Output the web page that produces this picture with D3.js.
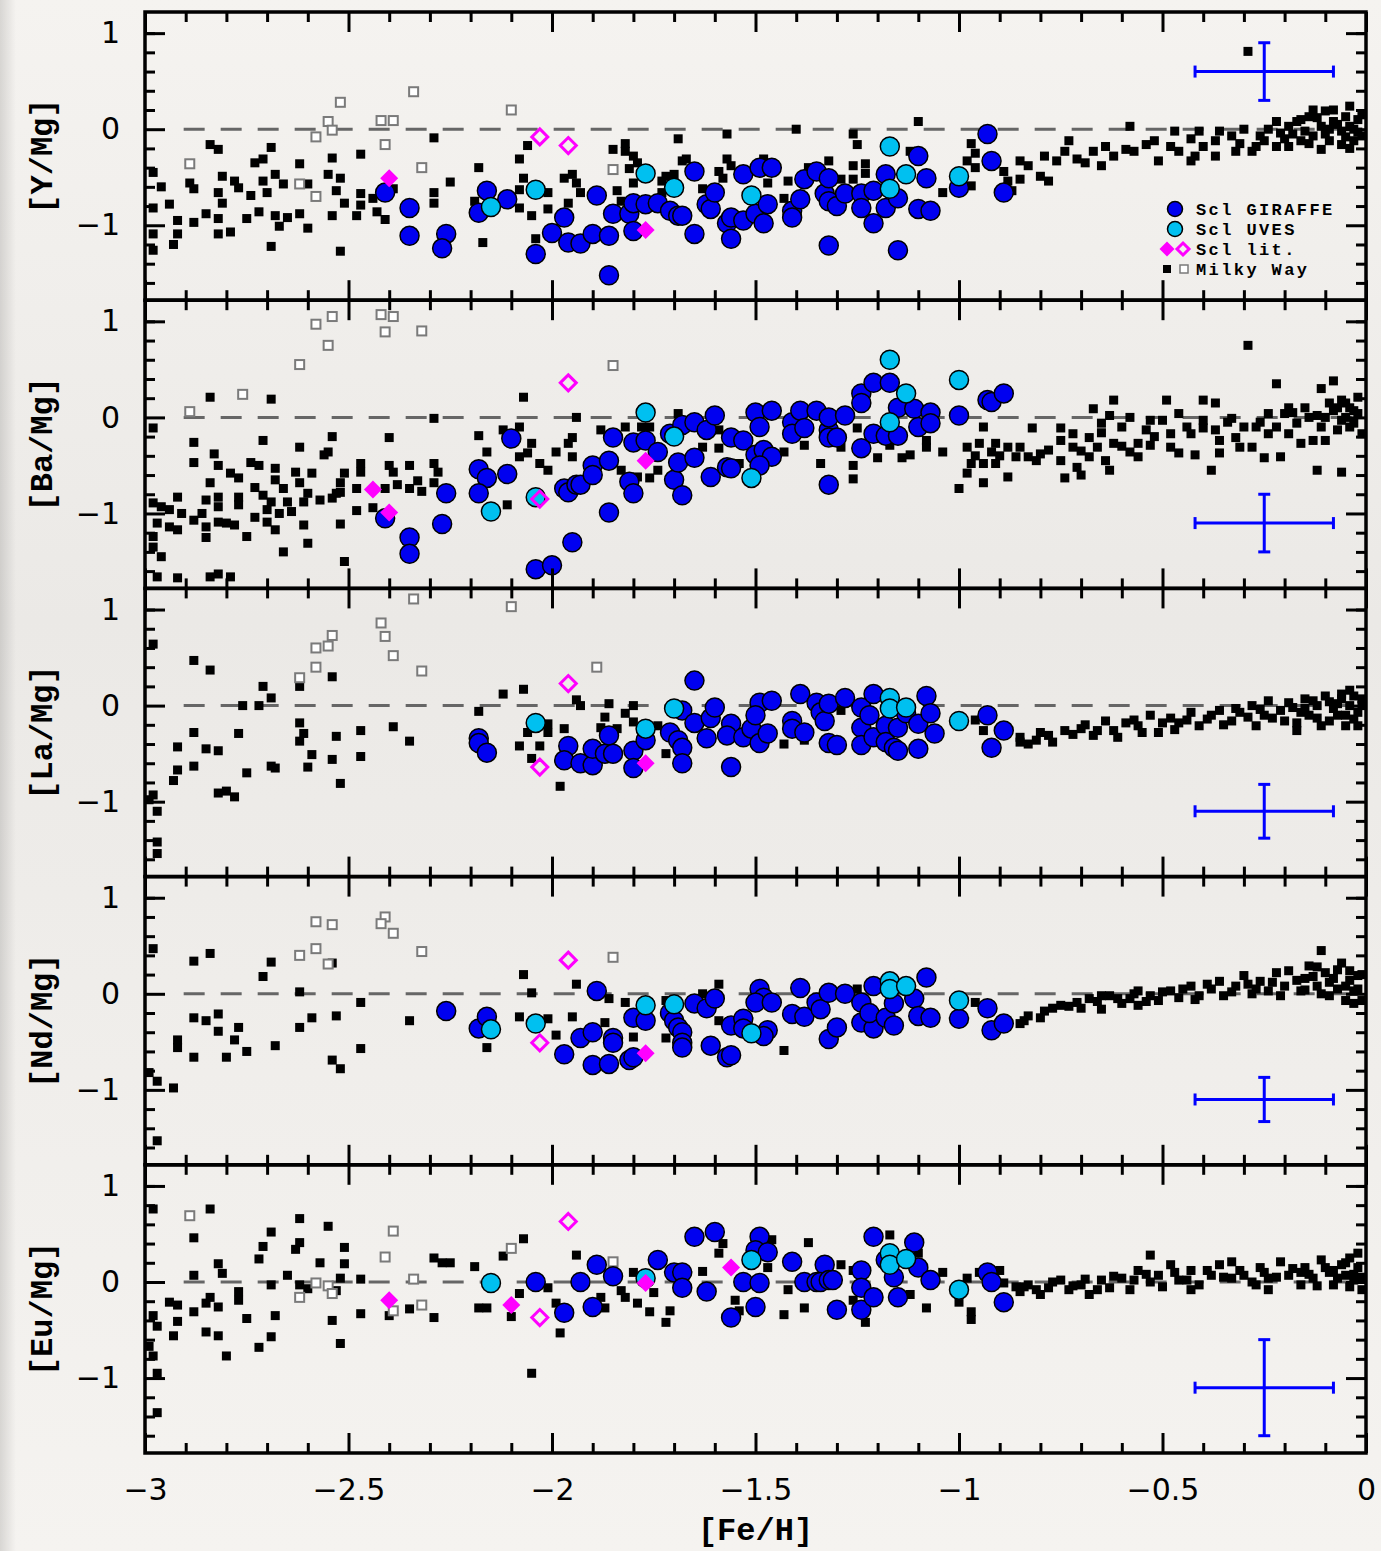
<!DOCTYPE html>
<html>
<head>
<meta charset="utf-8">
<script src="https://cdn.jsdelivr.net/npm/d3@7"></script>
<style>
  body { margin: 0; background: #f3f1ee; }
  svg { display: block; }
</style>
</head>
<body>
<script>
// Axis data
const feTicks = [-3, -2.5, -2, -1.5, -1, -0.5, 0];
const feMinor = d3.range(-29, 0).map(d => d / 10).filter(d => Math.abs(d * 2 - Math.round(d * 2)) > 1e-6);
const yTicks = [-1, 0, 1];
const yMinor = [-1.6, -1.4, -1.2, -0.8, -0.6, -0.4, -0.2, 0.2, 0.4, 0.6, 0.8, 1.0];
const yLabels = ['[Y/Mg]', '[Ba/Mg]', '[La/Mg]', '[Nd/Mg]', '[Eu/Mg]'];
const legendLabels = ['Scl GIRAFFE', 'Scl UVES', 'Scl lit.', 'Milky Way'];

// Typical error bars per panel
const errFe = -0.25;
const errFeHalf = 0.17;
const errCenter = [0.6, -1.1, -1.1, -1.1, -1.1];
const errHalf = [0.3, 0.3, 0.28, 0.23, 0.5];

// ---------------- [Y/Mg] ----------------
const girY = [[-2.41,-0.66],[-2.35,-0.82],[-2.35,-1.11],[-2.26,-1.09],[-2.27,-1.24],[-2.18,-0.87],[-2.16,-0.64],[-2.11,-0.73],[-2.04,-1.30],[-2.00,-1.08],[-1.97,-0.92],[-1.96,-1.18],[-1.93,-1.19],[-1.90,-1.09],[-1.89,-0.69],[-1.86,-1.11],[-1.85,-0.88],[-1.81,-0.88],[-1.80,-0.77],[-1.77,-0.78],[-1.80,-1.06],[-1.74,-0.77],[-1.71,-0.85],[-1.69,-0.90],[-1.68,-0.90],[-1.65,-0.44],[-1.65,-1.09],[-1.62,-0.78],[-1.61,-0.83],[-1.60,-0.66],[-1.57,-0.98],[-1.56,-0.92],[-1.56,-1.14],[-1.53,-0.95],[-1.53,-0.47],[-1.50,-0.88],[-1.49,-0.40],[-1.48,-0.98],[-1.47,-0.78],[-1.46,-0.40],[-1.41,-0.85],[-1.41,-0.92],[-1.39,-0.73],[-1.38,-0.52],[-1.35,-0.44],[-1.33,-0.67],[-1.32,-0.75],[-1.32,-0.51],[-1.30,-0.80],[-1.28,-0.67],[-1.32,-1.21],[-1.24,-0.67],[-1.24,-0.82],[-1.21,-0.64],[-1.21,-0.98],[-1.18,-0.82],[-1.18,-0.47],[-1.15,-0.72],[-1.15,-1.26],[-1.10,-0.28],[-1.10,-0.83],[-1.08,-0.51],[-1.07,-0.85],[-1.00,-0.61],[-0.93,-0.05],[-0.92,-0.33],[-0.89,-0.66],[-1.86,-1.52]];
const uvesY = [[-2.15,-0.81],[-2.04,-0.63],[-1.77,-0.46],[-1.70,-0.61],[-1.51,-0.69],[-1.17,-0.18],[-1.13,-0.47],[-1.17,-0.62],[-1.00,-0.49]];
const litY = [[-2.40,-0.51],[-1.77,-1.05]];
const litOpenY = [[-2.03,-0.08],[-1.96,-0.17]];
const mwOpenY = [[-2.89,-0.36],[-2.62,-0.57],[-2.58,-0.70],[-2.58,-0.08],[-2.55,0.08],[-2.54,-0.01],[-2.52,0.28],[-2.42,0.09],[-2.41,-0.16],[-2.39,0.09],[-2.34,0.39],[-2.32,-0.40],[-2.10,0.20],[-1.85,-0.42]];
const mwY = [[-2.98,-0.45],[-2.96,-0.60],[-2.98,-0.82],[-2.94,-0.78],[-2.92,-0.95],[-2.92,-1.09],[-2.98,-1.09],[-2.98,-1.26],[-2.93,-1.20],[-2.89,-0.56],[-2.88,-0.62],[-2.88,-0.97],[-2.85,-0.88],[-2.84,-0.16],[-2.82,-0.21],[-2.81,-0.49],[-2.82,-0.66],[-2.81,-0.77],[-2.82,-0.93],[-2.82,-1.09],[-2.79,-1.07],[-2.78,-0.54],[-2.77,-0.61],[-2.75,-0.93],[-2.73,-0.35],[-2.71,-0.31],[-2.74,-0.69],[-2.72,-0.86],[-2.71,-0.54],[-2.69,-0.19],[-2.70,-0.66],[-2.68,-0.47],[-2.66,-0.57],[-2.68,-0.90],[-2.67,-1.01],[-2.69,-1.22],[-2.65,-0.92],[-2.62,-0.36],[-2.62,-0.88],[-2.60,-1.03],[-2.60,-0.57],[-2.55,-0.47],[-2.54,-0.30],[-2.53,-0.64],[-2.52,-0.51],[-2.51,-0.77],[-2.54,-0.90],[-2.52,-1.27],[-2.47,-0.26],[-2.47,-0.67],[-2.47,-0.79],[-2.48,-0.90],[-2.44,-0.72],[-2.43,-0.86],[-2.41,-0.94],[-2.39,-0.62],[-2.29,-0.09],[-2.29,-0.66],[-2.29,-0.77],[-2.25,-0.55],[-2.18,-0.40],[-2.19,-0.75],[-2.17,-1.18],[-2.08,-0.31],[-2.07,-0.51],[-2.06,-0.17],[-2.08,-0.63],[-2.08,-0.82],[-2.05,-0.90],[-2.04,-1.14],[-2.01,-0.66],[-2.01,-0.83],[-1.97,-0.51],[-1.95,-0.47],[-1.96,-0.77],[-1.94,-0.56],[-1.93,-0.66],[-1.85,-0.21],[-1.82,-0.15],[-1.82,-0.23],[-1.80,-0.28],[-1.79,-0.35],[-1.81,-0.41],[-1.80,-0.56],[-1.84,-0.64],[-1.83,-0.75],[-1.69,-0.10],[-1.68,-0.33],[-1.67,-0.31],[-1.72,-0.49],[-1.70,-0.47],[-1.73,-0.66],[-1.73,-0.54],[-1.63,-0.62],[-1.57,-0.05],[-1.57,-0.31],[-1.59,-0.44],[-1.58,-0.51],[-1.56,-0.38],[-1.48,-0.31],[-1.47,-0.56],[-1.42,-0.54],[-1.43,-0.72],[-1.40,0.00],[-1.37,-0.40],[-1.32,-0.33],[-1.29,-0.52],[-1.26,-0.05],[-1.25,-0.16],[-1.26,-0.38],[-1.23,-0.36],[-1.23,-0.46],[-1.26,-0.52],[-1.10,0.08],[-1.12,-0.23],[-1.04,-0.66],[-0.97,-0.15],[-0.98,-0.33],[-0.96,-0.25],[-0.96,-0.40],[-0.97,-0.59],[-0.89,-0.44],[-0.88,-0.54],
  [-0.85,-0.33],[-0.83,-0.38],[-0.79,-0.28],[-0.76,-0.33],[-0.74,-0.23],[-0.71,-0.31],[-0.69,-0.35],[-0.67,-0.23],[-0.64,-0.18],[-0.62,-0.28],[-0.59,-0.21],[-0.57,-0.23],[-0.54,-0.16],[-0.52,-0.12],[-0.51,-0.33],[-0.48,-0.18],[-0.46,-0.23],[-0.43,-0.10],[-0.42,-0.28],[-0.40,-0.18],[-0.37,-0.12],[-0.36,-0.02],[-0.33,-0.07],[-0.31,-0.15],[-0.30,0.00],[-0.28,-0.23],[-0.26,-0.07],[-0.25,-0.12],[-0.24,0.00],[-0.22,-0.18],[-0.21,-0.04],[-0.20,-0.10],[-0.19,0.03],[-0.17,0.08],[-0.16,-0.12],[-0.15,-0.02],[-0.14,0.13],[-0.13,-0.07],[-0.11,0.03],[-0.10,0.19],[-0.09,-0.12],[-0.08,0.08],[-0.06,-0.02],[-0.05,0.13],[-0.04,0.03],[-0.03,-0.12],[-0.02,0.10],[-0.01,-0.07],[-0.29,0.81],[-0.80,-0.49],[-0.78,-0.54],[-0.73,-0.12],[-0.58,0.03],[-0.41,-0.02],[-0.47,-0.02],[-0.65,-0.38],[-0.85,-0.52],[-0.87,-0.64],[-0.06,-0.16],[-0.04,0.24],[-0.11,-0.21],[-0.19,-0.18],[-0.14,-0.15],[-0.03,0.00],[-0.09,0.00],[-0.16,0.10],[-0.22,0.08],[-0.27,-0.18],[-0.32,-0.23],[-0.37,-0.28],[-0.43,-0.33],[-0.07,0.05],[-0.12,0.12],[-0.02,-0.03],[-0.05,-0.08],[-0.18,-0.05],[-0.10,-0.05],[-0.01,0.15],[-0.04,-0.20],[-0.08,0.20],[-0.13,0.20]];

// ---------------- [Ba/Mg] ----------------
const girBa = [[-2.41,-1.05],[-2.35,-1.25],[-2.35,-1.42],[-2.26,-0.79],[-2.27,-1.11],[-2.18,-0.54],[-2.16,-0.63],[-2.18,-0.79],[-2.11,-0.59],[-2.10,-0.22],[-2.04,-1.58],[-2.00,-1.54],[-1.97,-0.74],[-1.96,-0.78],[-1.95,-1.30],[-1.94,-0.70],[-1.93,-0.70],[-1.90,-0.50],[-1.90,-0.60],[-1.86,-0.45],[-1.85,-0.21],[-1.86,-0.99],[-1.81,-0.67],[-1.80,-0.79],[-1.80,-0.26],[-1.77,-0.24],[-1.74,-0.36],[-1.71,-0.17],[-1.70,-0.65],[-1.68,-0.81],[-1.69,-0.47],[-1.65,-0.42],[-1.68,-0.08],[-1.65,-0.05],[-1.62,-0.13],[-1.60,0.02],[-1.61,-0.62],[-1.57,-0.52],[-1.56,-0.21],[-1.53,-0.24],[-1.56,-0.53],[-1.50,0.05],[-1.46,0.07],[-1.49,-0.10],[-1.50,-0.39],[-1.48,-0.34],[-1.46,-0.41],[-1.49,-0.50],[-1.41,-0.05],[-1.41,-0.17],[-1.39,0.07],[-1.38,-0.11],[-1.35,0.07],[-1.32,-0.13],[-1.32,0.00],[-1.32,-0.21],[-1.30,-0.21],[-1.32,-0.70],[-1.28,0.02],[-1.24,0.25],[-1.24,0.15],[-1.21,0.36],[-1.17,0.36],[-1.24,-0.32],[-1.21,-0.17],[-1.18,-0.19],[-1.15,0.10],[-1.15,-0.19],[-1.11,0.09],[-1.10,-0.10],[-1.07,0.05],[-1.07,-0.06],[-1.00,0.02],[-0.93,0.18],[-0.92,0.16],[-0.89,0.25]];
const uvesBa = [[-2.15,-0.98],[-2.04,-0.83],[-1.77,0.05],[-1.70,-0.20],[-1.51,-0.63],[-1.17,0.60],[-1.13,0.25],[-1.17,-0.05],[-1.00,0.39]];
const litBa = [[-2.44,-0.75],[-2.40,-0.99],[-1.77,-0.45]];
const litOpenBa = [[-1.96,0.36],[-2.03,-0.85]];
const mwOpenBa = [[-2.89,0.06],[-2.76,0.24],[-2.62,0.55],[-2.58,0.97],[-2.55,0.75],[-2.54,1.05],[-2.42,1.07],[-2.41,0.89],[-2.39,1.05],[-2.32,0.90],[-1.85,0.54]];
const mwBa = [[-2.98,-0.11],[-2.88,-0.26],[-2.88,-0.47],[-2.84,0.21],[-2.83,-0.38],[-2.82,-0.50],[-2.84,-0.68],[-2.79,-0.58],[-2.77,-0.63],[-2.74,-0.47],[-2.72,-0.50],[-2.71,-0.24],[-2.69,0.19],[-2.68,-0.53],[-2.68,-0.65],[-2.66,-0.74],[-2.63,-0.57],[-2.62,-0.31],[-2.62,-0.68],[-2.59,-0.58],[-2.60,-0.79],[-2.56,-0.39],[-2.55,-0.36],[-2.54,-0.20],[-2.51,-0.58],[-2.52,-0.68],[-2.53,-0.79],[-2.47,-0.48],[-2.47,-0.57],[-2.48,-0.74],[-2.48,-0.97],[-2.44,-0.94],[-2.41,-0.74],[-2.40,-0.21],[-2.39,-0.57],[-2.40,-0.50],[-2.38,-0.70],[-2.35,-0.50],[-2.35,-0.74],[-2.33,-0.66],[-2.32,-0.77],[-2.29,-0.01],[-2.29,-0.48],[-2.28,-0.57],[-2.29,-0.68],[-2.18,-0.19],[-2.16,-0.36],[-2.12,-0.13],[-2.08,-0.10],[-2.08,-0.41],[-2.06,-0.37],[-2.05,-0.27],[-2.03,-0.48],[-2.01,-0.55],[-2.11,-0.91],[-2.07,0.21],[-1.94,0.00],[-1.95,-0.21],[-1.96,-0.27],[-1.99,-0.36],[-1.95,-0.41],[-2.51,-1.50],[-2.66,-1.40],[-2.60,-1.31],[-2.75,-1.24],[-2.79,-1.66],[-2.82,-1.63],[-2.84,-1.66],[-2.92,-1.67],[-2.97,-1.66],[-2.96,-1.45],[-2.98,-1.35],[-2.98,-1.24],[-2.97,-1.10],[-2.98,-0.89],[-2.96,-0.93],[-2.92,-0.83],[-2.94,-0.96],[-2.91,-1.00],[-2.94,-1.14],[-2.92,-1.17],[-2.88,-1.07],[-2.86,-1.00],[-2.85,-0.86],[-2.85,-1.14],[-2.85,-1.25],[-2.82,-0.83],[-2.82,-0.93],[-2.82,-1.09],[-2.80,-1.10],[-2.78,-1.12],[-2.77,-0.83],[-2.77,-0.91],[-2.73,-0.73],[-2.73,-1.04],[-2.71,-0.81],[-2.70,-0.96],[-2.69,-0.88],[-2.70,-1.09],[-2.68,-1.17],[-2.67,-1.00],[-2.65,-0.88],[-2.64,-0.98],[-2.61,-0.88],[-2.61,-1.12],[-2.57,-0.86],[-2.54,-0.84],[-2.52,-0.78],[-2.52,-1.11],
  [-1.88,-0.13],[-1.82,-0.10],[-1.78,-0.10],[-1.76,-0.10],[-1.69,0.04],[-1.83,-0.55],[-1.79,-0.62],[-1.76,-0.63],[-1.74,-0.55],[-1.63,-0.31],[-1.59,-0.32],[-1.59,-0.13],[-1.54,-0.48],[-1.43,-0.36],[-1.38,-0.29],[-1.34,-0.48],[-1.26,-0.50],[-1.26,-0.64],[-1.29,-0.31],[-1.25,-0.11],[-1.20,-0.42],[-1.17,-0.29],[-1.14,-0.42],[-1.12,-0.39],[-1.08,-0.24],[-1.08,-0.31],[-1.04,-0.36],
  [-1.00,-0.74],[-0.98,-0.31],[-0.98,-0.58],[-0.97,-0.48],[-0.95,-0.27],[-0.94,-0.10],[-0.94,-0.48],[-0.94,-0.68],[-0.92,-0.36],[-0.91,-0.27],[-0.91,-0.48],[-0.88,-0.62],[-0.88,-0.31],[-0.86,-0.41],[-0.85,-0.31],[-0.82,-0.11],[-0.83,-0.41],[-0.81,-0.45],[-0.78,-0.34],[-0.75,-0.11],[-0.75,-0.24],[-0.75,-0.45],[-0.74,-0.63],[-0.72,-0.17],[-0.72,-0.31],[-0.71,-0.52],[-0.70,-0.60],[-0.67,0.09],[-0.68,-0.21],[-0.68,-0.41],[-0.66,-0.31],[-0.65,-0.06],[-0.65,-0.16],[-0.64,-0.45],[-0.63,-0.55],[-0.63,0.02],[-0.62,0.18],[-0.62,-0.27],[-0.60,-0.10],[-0.58,0.00],[-0.58,-0.36],[-0.56,-0.27],[-0.56,-0.41],[-0.54,-0.13],[-0.53,-0.03],[-0.53,-0.29],[-0.49,0.18],[-0.50,-0.03],[-0.48,-0.17],[-0.48,-0.31],[-0.46,0.04],[-0.46,-0.37],[-0.43,-0.17],[-0.42,-0.39],[-0.40,0.18],[-0.40,-0.03],[-0.40,-0.11],[-0.38,-0.55],[-0.37,0.15],[-0.37,-0.13],[-0.36,-0.24],[-0.36,-0.37],[-0.33,-0.01],[-0.32,-0.21],[-0.31,-0.31],[-0.30,-0.10],[-0.29,0.75],[-0.28,-0.31],[-0.27,-0.10],[-0.25,-0.42],[-0.24,0.04],[-0.24,-0.17],[-0.22,0.35],[-0.21,-0.41],[-0.22,-0.10],[-0.20,0.04],[-0.19,-0.17],[-0.19,0.10],[-0.17,-0.06],[-0.16,-0.27],[-0.15,0.10],[-0.13,-0.24],[-0.12,0.02],[-0.12,-0.55],[-0.11,0.30],[-0.11,-0.10],[-0.10,-0.24],[-0.08,0.38],[-0.08,0.07],[-0.07,-0.13],[-0.06,-0.57],[-0.06,0.18],[-0.05,0.00],[-0.04,0.10],[-0.03,-0.06],[-0.02,0.21],[-0.02,0.04],[-0.01,-0.17],[-0.03,0.07],[-0.06,-0.03],[-0.10,0.00],[-0.07,0.10],
  [-0.05,0.15],[-0.04,-0.10],[-0.09,0.15],[-0.14,0.00],[-0.18,0.05],[-0.26,-0.05],[-0.34,-0.05],[-0.44,-0.10],[-0.52,-0.20],[-0.60,-0.30],[-0.70,-0.35],[-0.80,-0.38],[-0.90,-0.40],[-0.96,-0.40]];

// ---------------- [La/Mg] ----------------
const girLa = [[-2.18,-0.34],[-2.18,-0.39],[-2.16,-0.49],[-1.96,-0.42],[-1.97,-0.57],[-1.93,-0.60],[-1.90,-0.62],[-1.90,-0.45],[-1.87,-0.50],[-1.86,-0.31],[-1.85,-0.50],[-1.80,-0.47],[-1.80,-0.65],[-1.77,-0.36],[-1.71,-0.28],[-1.69,-0.36],[-1.68,-0.44],[-1.68,-0.60],[-1.68,-0.05],[-1.65,0.26],[-1.65,-0.18],[-1.62,-0.34],[-1.61,-0.13],[-1.60,-0.02],[-1.56,-0.19],[-1.56,-0.64],[-1.57,-0.31],[-1.53,-0.33],[-1.51,-0.24],[-1.49,0.03],[-1.46,0.05],[-1.50,-0.10],[-1.49,-0.39],[-1.47,-0.29],[-1.41,-0.16],[-1.41,-0.24],[-1.39,0.12],[-1.38,-0.28],[-1.35,0.03],[-1.34,-0.07],[-1.33,-0.16],[-1.32,0.02],[-1.32,-0.39],[-1.30,-0.41],[-1.28,0.08],[-1.24,-0.02],[-1.24,-0.23],[-1.24,-0.41],[-1.22,-0.10],[-1.21,0.12],[-1.21,-0.33],[-1.18,-0.21],[-1.18,-0.38],[-1.16,-0.44],[-1.15,-0.47],[-1.15,-0.23],[-1.13,-0.08],[-1.10,-0.19],[-1.10,-0.45],[-1.08,0.10],[-1.07,-0.08],[-1.06,-0.29],[-0.93,-0.10],[-0.92,-0.44],[-0.89,-0.26]];
const uvesLa = [[-2.04,-0.18],[-1.77,-0.24],[-1.70,-0.03],[-1.17,0.08],[-1.17,-0.03],[-1.13,-0.02],[-1.00,-0.16]];
const litLa = [[-1.77,-0.60]];
const litOpenLa = [[-1.96,0.23],[-2.03,-0.64]];
const mwOpenLa = [[-2.42,0.86],[-2.41,0.72],[-2.39,0.52],[-2.32,0.36],[-2.54,0.73],[-2.55,0.62],[-2.58,0.60],[-2.58,0.40],[-2.62,0.29],[-2.34,1.11],[-2.10,1.03],[-1.89,0.40]];
const mwLa = [[-2.98,0.64],[-2.88,0.47],[-2.84,0.37],[-2.71,0.20],[-2.69,0.08],[-2.62,0.20],[-2.76,0.00],[-2.72,0.00],[-2.54,0.30],[-2.88,-0.28],[-2.77,-0.29],[-2.92,-0.43],[-2.85,-0.45],[-2.82,-0.47],[-2.62,-0.18],[-2.61,-0.29],[-2.62,-0.37],[-2.59,-0.51],[-2.53,-0.32],[-2.47,-0.26],[-2.47,-0.53],[-2.39,-0.22],[-2.35,-0.37],[-2.54,-0.56],[-2.52,-0.81],[-2.60,-0.64],[-2.69,-0.63],[-2.68,-0.65],[-2.75,-0.70],[-2.88,-0.63],[-2.92,-0.67],[-2.93,-0.78],[-2.82,-0.91],[-2.80,-0.89],[-2.78,-0.95],[-2.98,-0.93],[-2.99,-0.98],[-2.97,-1.10],[-2.97,-1.42],[-2.97,-1.54],
  [-2.12,0.12],[-2.07,0.17],[-2.18,-0.06],[-1.94,0.06],[-1.93,0.00],[-1.86,0.02],[-1.80,0.00],[-1.87,-0.12],[-1.82,-0.08],[-1.80,-0.17],[-2.01,-0.19],[-2.01,-0.28],[-1.97,-0.24],[-2.06,-0.28],[-1.88,-0.23],[-1.84,-0.24],[-2.08,-0.42],[-2.03,-0.42],[-2.05,-0.55],[-1.72,-0.50],[-1.74,-0.21],[-1.98,-0.84],[-1.43,-0.40],[-1.38,-0.36],[-1.29,-0.05],[-0.96,-0.15],[-0.94,-0.26],[-0.85,-0.38],
  [-0.85,-0.33],[-0.81,-0.36],[-0.78,-0.31],[-0.74,-0.26],[-0.70,-0.24],[-0.67,-0.31],[-0.64,-0.16],[-0.62,-0.26],[-0.59,-0.18],[-0.56,-0.21],[-0.53,-0.10],[-0.51,-0.28],[-0.48,-0.13],[-0.46,-0.18],[-0.43,-0.07],[-0.41,-0.21],[-0.38,-0.10],[-0.36,-0.05],[-0.33,-0.16],[-0.31,-0.07],[-0.28,0.00],[-0.27,-0.21],[-0.25,-0.10],[-0.24,0.05],[-0.21,-0.05],[-0.20,-0.16],[-0.19,0.03],[-0.16,-0.07],[-0.15,0.07],[-0.14,-0.10],[-0.12,0.00],[-0.10,0.10],[-0.09,-0.16],[-0.08,-0.03],[-0.06,0.07],[-0.05,-0.10],[-0.04,0.16],[-0.04,0.00],[-0.02,-0.07],[-0.01,0.07],[-0.05,-0.21],[-0.11,-0.21],[-0.17,-0.26],[-0.02,-0.21],
  [-0.83,-0.40],[-0.80,-0.28],[-0.77,-0.38],[-0.72,-0.30],[-0.69,-0.20],[-0.66,-0.26],[-0.61,-0.33],[-0.57,-0.15],[-0.55,-0.28],[-0.50,-0.18],[-0.47,-0.25],[-0.44,-0.15],[-0.39,-0.14],[-0.35,-0.20],[-0.32,-0.03],[-0.29,-0.12],[-0.26,-0.04],[-0.23,-0.13],[-0.18,-0.02],[-0.17,-0.18],[-0.13,0.05],[-0.12,-0.13],[-0.07,0.02],[-0.07,-0.10],[-0.03,0.10],[-0.03,-0.14],[-0.01,0.00],[-0.06,0.12],[-0.09,0.04],[-0.15,-0.03]];

// ---------------- [Nd/Mg] ----------------
const girNd = [[-2.26,-0.18],[-2.18,-0.36],[-2.16,-0.24],[-1.97,-0.63],[-1.93,-0.46],[-1.90,-0.40],[-1.89,0.03],[-1.90,-0.74],[-1.86,-0.73],[-1.85,-0.46],[-1.85,-0.51],[-1.81,-0.69],[-1.80,-0.66],[-1.80,-0.25],[-1.77,-0.28],[-1.71,-0.20],[-1.70,-0.28],[-1.69,-0.35],[-1.68,-0.40],[-1.68,-0.51],[-1.68,-0.56],[-1.65,-0.10],[-1.62,-0.15],[-1.60,-0.05],[-1.61,-0.54],[-1.57,-0.66],[-1.56,-0.64],[-1.56,-0.33],[-1.53,-0.26],[-1.53,-0.36],[-1.49,0.05],[-1.48,-0.04],[-1.50,-0.09],[-1.46,-0.09],[-1.47,-0.38],[-1.48,-0.44],[-1.41,-0.21],[-1.39,0.06],[-1.38,-0.24],[-1.35,-0.09],[-1.34,-0.16],[-1.32,0.01],[-1.32,-0.47],[-1.30,-0.35],[-1.28,0.00],[-1.24,-0.09],[-1.24,-0.30],[-1.21,0.08],[-1.21,-0.36],[-1.22,-0.20],[-1.18,-0.25],[-1.16,-0.33],[-1.16,-0.10],[-1.11,-0.05],[-1.10,-0.23],[-1.07,-0.25],[-1.08,0.17],[-1.00,-0.26],[-0.93,-0.15],[-0.92,-0.38],[-0.89,-0.31]];
const uvesNd = [[-2.15,-0.37],[-2.04,-0.31],[-1.77,-0.12],[-1.70,-0.11],[-1.51,-0.41],[-1.17,0.13],[-1.17,0.05],[-1.13,0.08],[-1.00,-0.07]];
const litNd = [[-1.77,-0.62]];
const litOpenNd = [[-1.96,0.35],[-2.03,-0.51]];
const mwOpenNd = [[-2.58,0.75],[-2.54,0.72],[-2.62,0.40],[-2.58,0.47],[-2.55,0.31],[-2.41,0.80],[-2.42,0.73],[-2.39,0.63],[-2.32,0.44],[-1.85,0.38]];
const mwNd = [[-2.98,0.47],[-2.88,0.34],[-2.84,0.42],[-2.69,0.33],[-2.71,0.18],[-2.62,0.02],[-2.54,0.32],[-2.88,-0.25],[-2.85,-0.28],[-2.82,-0.21],[-2.82,-0.39],[-2.77,-0.35],[-2.78,-0.48],[-2.75,-0.60],[-2.80,-0.66],[-2.88,-0.66],[-2.92,-0.48],[-2.92,-0.56],[-2.68,-0.54],[-2.62,-0.35],[-2.59,-0.25],[-2.53,-0.23],[-2.54,-0.69],[-2.52,-0.78],[-2.47,-0.09],[-2.47,-0.57],[-2.35,-0.28],[-2.99,-0.82],[-2.97,-0.91],[-2.93,-0.98],[-2.97,-1.53],
  [-2.07,0.20],[-2.05,0.01],[-1.94,0.10],[-2.08,-0.24],[-2.01,-0.26],[-1.95,-0.24],[-2.16,-0.56],[-1.99,-0.43],[-1.87,-0.30],[-1.86,-0.05],[-1.82,-0.09],[-1.80,-0.45],[-1.72,-0.46],[-1.72,-0.07],[-1.63,0.00],[-1.59,0.10],[-1.59,-0.28],[-1.43,-0.59],[-1.25,0.05],[-0.96,-0.09],[-0.85,-0.31],
  [-0.83,-0.23],[-0.79,-0.18],[-0.75,-0.12],[-0.71,-0.09],[-0.68,-0.05],[-0.65,-0.16],[-0.63,-0.02],[-0.60,-0.10],[-0.58,-0.05],[-0.56,-0.12],[-0.53,-0.02],[-0.51,-0.07],[-0.48,0.03],[-0.46,-0.04],[-0.43,0.08],[-0.41,-0.02],[-0.38,0.05],[-0.36,0.13],[-0.35,-0.02],[-0.32,0.08],[-0.30,0.19],[-0.28,0.00],[-0.26,0.13],[-0.24,0.03],[-0.22,0.22],[-0.20,0.08],[-0.19,0.24],[-0.16,0.03],[-0.15,0.16],[-0.14,0.29],[-0.12,0.08],[-0.10,0.22],[-0.09,-0.02],[-0.08,0.16],[-0.06,0.32],[-0.05,0.08],[-0.04,0.24],[-0.03,0.03],[-0.02,0.19],[-0.01,-0.07],[-0.11,0.45],[-0.05,-0.07],[-0.65,-0.02],[-0.56,0.03],
  [-0.84,-0.28],[-0.80,-0.25],[-0.77,-0.15],[-0.73,-0.13],[-0.70,-0.15],[-0.66,-0.08],[-0.61,-0.05],[-0.57,0.00],[-0.54,-0.08],[-0.50,0.02],[-0.45,0.05],[-0.42,-0.06],[-0.39,0.10],[-0.33,0.02],[-0.29,0.10],[-0.27,0.05],[-0.23,0.12],[-0.21,-0.02],[-0.17,0.14],[-0.13,0.18],[-0.11,0.00],[-0.07,0.05],[-0.07,0.25],[-0.04,0.14],[-0.02,0.05],[-0.01,0.20],[-0.03,-0.10],[-0.09,0.12],[-0.15,0.04],[-0.12,0.28]];

// ---------------- [Eu/Mg] ----------------
const girEu = [[-2.04,0.00],[-1.97,-0.32],[-1.93,0.00],[-1.90,-0.26],[-1.89,0.18],[-1.85,0.06],[-1.74,0.23],[-1.70,0.10],[-1.68,0.10],[-1.68,-0.06],[-1.65,0.47],[-1.62,-0.10],[-1.60,0.52],[-1.56,-0.37],[-1.53,0.00],[-1.50,-0.26],[-1.49,-0.01],[-1.49,0.47],[-1.50,0.33],[-1.47,0.31],[-1.41,0.21],[-1.38,0.00],[-1.33,0.18],[-1.35,0.00],[-1.34,0.00],[-1.32,0.02],[-1.31,0.02],[-1.30,-0.29],[-1.24,0.12],[-1.24,-0.06],[-1.24,-0.29],[-1.21,-0.16],[-1.21,0.47],[-1.18,0.23],[-1.16,0.05],[-1.15,-0.16],[-1.11,0.41],[-1.10,0.15],[-1.07,0.02],[-0.93,0.10],[-0.92,0.00],[-0.89,-0.21]];
const uvesEu = [[-2.15,-0.01],[-1.77,0.04],[-1.51,0.23],[-1.17,0.30],[-1.17,0.18],[-1.13,0.24],[-1.00,-0.08]];
const litEu = [[-2.40,-0.19],[-2.10,-0.24],[-1.77,-0.01],[-1.56,0.15]];
const litOpenEu = [[-1.96,0.63],[-2.03,-0.37]];
const mwOpenEu = [[-2.89,0.69],[-2.39,0.53],[-2.41,0.26],[-2.34,0.03],[-2.58,-0.01],[-2.55,-0.04],[-2.62,-0.16],[-2.54,-0.12],[-2.32,-0.24],[-2.39,-0.30],[-2.10,0.35],[-1.85,0.21]];
const mwEu = [[-2.98,0.76],[-2.84,0.76],[-2.88,0.46],[-2.62,0.66],[-2.55,0.58],[-2.69,0.52],[-2.71,0.37],[-2.72,0.24],[-2.62,0.41],[-2.63,0.34],[-2.51,0.36],[-2.51,0.19],[-2.57,0.20],[-2.82,0.19],[-2.81,0.09],[-2.88,0.07],[-2.65,0.07],[-2.69,-0.03],[-2.62,-0.03],[-2.60,-0.07],[-2.52,0.04],[-2.53,-0.09],[-2.47,0.03],[-2.77,-0.10],[-2.77,-0.19],[-2.84,-0.16],[-2.85,-0.22],[-2.94,-0.21],[-2.92,-0.24],[-2.88,-0.31],[-2.82,-0.26],[-2.75,-0.38],[-2.68,-0.35],[-2.54,-0.40],[-2.47,-0.33],[-2.40,-0.35],[-2.35,-0.28],[-2.29,0.25],[-2.29,-0.37],[-2.97,-0.46],[-2.92,-0.41],[-2.93,-0.56],[-2.85,-0.52],[-2.82,-0.56],[-2.80,-0.77],[-2.72,-0.68],[-2.69,-0.57],[-2.52,-0.64],[-2.99,-0.67],[-2.98,-0.77],[-2.97,-0.95],[-2.97,-1.36],[-2.98,-0.35],
  [-2.27,0.20],[-2.25,0.20],[-2.19,0.16],[-2.18,-0.27],[-2.16,-0.27],[-2.10,-0.36],[-2.12,0.27],[-2.07,0.45],[-2.08,-0.12],[-2.01,-0.06],[-1.99,-0.22],[-1.98,-0.53],[-1.94,0.28],[-1.88,-0.16],[-1.87,-0.27],[-1.83,-0.09],[-1.82,-0.16],[-1.80,0.10],[-1.79,-0.22],[-1.76,-0.31],[-1.75,-0.11],[-1.72,-0.42],[-1.71,-0.30],[-1.63,0.11],[-1.59,0.30],[-1.58,0.40],[-1.55,-0.19],[-1.54,-0.30],[-1.47,0.15],[-1.46,0.44],[-1.42,-0.08],[-1.38,-0.27],[-1.37,0.41],[-1.29,0.18],[-1.43,-0.34],[-1.26,0.12],[-1.26,-0.19],[-1.23,-0.42],[-1.17,0.49],[-1.12,-0.13],[-1.10,0.30],[-1.08,-0.27],[-1.04,0.10],[-1.00,-0.21],[-0.98,0.04],[-0.97,-0.31],[-0.97,-0.39],[-0.95,0.10],[-0.90,0.12],[-0.89,-0.01],[-0.86,-0.05],[-2.05,-0.95],
  [-0.85,-0.10],[-0.83,-0.03],[-0.80,-0.13],[-0.78,-0.06],[-0.75,0.02],[-0.73,-0.08],[-0.70,-0.03],[-0.68,-0.13],[-0.65,0.02],[-0.63,-0.06],[-0.60,0.04],[-0.58,-0.08],[-0.56,0.12],[-0.53,0.00],[-0.51,0.07],[-0.48,0.18],[-0.46,0.02],[-0.43,0.12],[-0.41,-0.03],[-0.38,0.07],[-0.36,0.18],[-0.33,0.04],[-0.31,0.12],[-0.28,0.00],[-0.26,0.15],[-0.24,0.04],[-0.21,0.21],[-0.19,0.07],[-0.16,-0.03],[-0.15,0.15],[-0.13,0.04],[-0.11,0.23],[-0.09,0.10],[-0.08,-0.03],[-0.06,0.18],[-0.05,0.07],[-0.04,0.25],[-0.03,0.02],[-0.02,0.15],[-0.01,-0.08],[-0.53,0.28],[-0.33,0.21],[-0.43,-0.08],[-0.24,-0.08],
  [-0.84,-0.05],[-0.81,-0.08],[-0.77,0.00],[-0.72,-0.04],[-0.69,0.03],[-0.66,-0.08],[-0.62,0.06],[-0.57,0.02],[-0.54,0.08],[-0.50,-0.05],[-0.47,0.10],[-0.44,0.02],[-0.39,0.12],[-0.35,0.05],[-0.30,0.07],[-0.27,-0.03],[-0.25,0.10],[-0.22,0.05],[-0.18,0.14],[-0.14,0.08],[-0.12,-0.04],[-0.10,0.15],[-0.07,0.04],[-0.05,0.20],[-0.03,0.08],[-0.02,0.30],[-0.01,0.05],[-0.04,-0.05],[-0.08,0.12],[-0.16,0.10]];

const panelData = [
  { mw: mwY,  mwOpen: mwOpenY,  gir: girY,  uves: uvesY,  lit: litY,  litOpen: litOpenY },
  { mw: mwBa, mwOpen: mwOpenBa, gir: girBa, uves: uvesBa, lit: litBa, litOpen: litOpenBa },
  { mw: mwLa, mwOpen: mwOpenLa, gir: girLa, uves: uvesLa, lit: litLa, litOpen: litOpenLa },
  { mw: mwNd, mwOpen: mwOpenNd, gir: girNd, uves: uvesNd, lit: litNd, litOpen: litOpenNd },
  { mw: mwEu, mwOpen: mwOpenEu, gir: girEu, uves: uvesEu, lit: litEu, litOpen: litOpenEu },
];

// Layout
const width = 1381;
const height = 1551;
const left = 145;
const right = 1366;
const top0 = 12;
const panelH = 288.2;

const blue = '#0000f0';
const cyan = '#00c0f0';
const magenta = '#ff00ff';
const tickFont = 'DejaVu Sans';
const monoFont = 'Liberation Mono';

const x = d3.scaleLinear().domain([-3, 0]).range([left, right]);
const minus = d => d === 0 ? '0' : (d < 0 ? '\u2212' : '') + Math.abs(d);

const svg = d3.select('body').append('svg')
    .attr('width', width)
    .attr('height', height);

// Paper background
const defs = svg.append('defs');
const bg = defs.append('linearGradient').attr('id', 'paper')
    .attr('x1', 0).attr('y1', 0).attr('x2', 0).attr('y2', 1);
bg.append('stop').attr('offset', '0%').attr('stop-color', '#f5f3f0');
bg.append('stop').attr('offset', '40%').attr('stop-color', '#ebe9e6');
bg.append('stop').attr('offset', '75%').attr('stop-color', '#f1efec');
bg.append('stop').attr('offset', '100%').attr('stop-color', '#f5f3f0');
const shade = defs.append('linearGradient').attr('id', 'shade')
    .attr('x1', 0).attr('y1', 0).attr('x2', 1).attr('y2', 0);
shade.append('stop').attr('offset', '0%').attr('stop-color', '#000').attr('stop-opacity', 0.12);
shade.append('stop').attr('offset', '100%').attr('stop-color', '#000').attr('stop-opacity', 0);

svg.append('rect').attr('width', width).attr('height', height).attr('fill', 'url(#paper)');
svg.append('rect').attr('width', 16).attr('height', height).attr('fill', 'url(#shade)');

const diamond = r => `M0,${-r}L${r},0L0,${r}L${-r},0Z`;

function cleanAxis(g) {
  g.select('.domain').remove();
  g.selectAll('line').attr('stroke', '#000').attr('stroke-width', 3);
  g.selectAll('text').attr('font-family', tickFont).attr('font-size', 30).attr('fill', '#000');
}

panelData.forEach((pd, i) => {
  const top = top0 + i * panelH;
  const bottom = top + panelH;
  const y = d3.scaleLinear().domain([-1.78, 1.22]).range([bottom, top]);
  const g = svg.append('g');

  defs.append('clipPath').attr('id', 'clip' + i)
    .append('rect').attr('x', left).attr('y', top).attr('width', right - left).attr('height', panelH);
  const plot = g.append('g').attr('clip-path', `url(#clip${i})`);

  // Zero reference line
  plot.append('line')
      .attr('x1', x(-2.905)).attr('x2', x(0))
      .attr('y1', y(0)).attr('y2', y(0))
      .attr('stroke', '#666').attr('stroke-width', 3)
      .attr('stroke-dasharray', '21,16');

  // Milky Way, filled
  plot.selectAll('.mw')
      .data(pd.mw)
    .enter().append('rect')
      .attr('x', d => x(d[0]) - 4.5)
      .attr('y', d => y(d[1]) - 4.5)
      .attr('width', 9).attr('height', 9)
      .attr('fill', '#000');

  // Milky Way, open
  plot.selectAll('.mwo')
      .data(pd.mwOpen)
    .enter().append('rect')
      .attr('x', d => x(d[0]) - 4.5)
      .attr('y', d => y(d[1]) - 4.5)
      .attr('width', 9).attr('height', 9)
      .attr('fill', '#fff').attr('stroke', '#7a7a7a').attr('stroke-width', 2);

  // Scl GIRAFFE
  plot.selectAll('.gir')
      .data(pd.gir)
    .enter().append('circle')
      .attr('cx', d => x(d[0]))
      .attr('cy', d => y(d[1]))
      .attr('r', 9.5)
      .attr('fill', blue).attr('stroke', '#000').attr('stroke-width', 1.5);

  // Scl UVES
  plot.selectAll('.uves')
      .data(pd.uves)
    .enter().append('circle')
      .attr('cx', d => x(d[0]))
      .attr('cy', d => y(d[1]))
      .attr('r', 9.5)
      .attr('fill', cyan).attr('stroke', '#000').attr('stroke-width', 1.5);

  // Scl literature
  plot.selectAll('.lit')
      .data(pd.lit)
    .enter().append('path')
      .attr('transform', d => `translate(${x(d[0])},${y(d[1])})`)
      .attr('d', diamond(9))
      .attr('fill', magenta);

  plot.selectAll('.lito')
      .data(pd.litOpen)
    .enter().append('path')
      .attr('transform', d => `translate(${x(d[0])},${y(d[1])})`)
      .attr('d', diamond(8))
      .attr('fill', 'none').attr('stroke', magenta).attr('stroke-width', 3);

  // Typical error bar
  const eb = g.append('g').attr('stroke', '#0000ff').attr('stroke-width', 3);
  const ex0 = x(errFe - errFeHalf), ex1 = x(errFe + errFeHalf), exc = x(errFe);
  const ey = y(errCenter[i]), ey0 = y(errCenter[i] - errHalf[i]), ey1 = y(errCenter[i] + errHalf[i]);
  eb.append('line').attr('x1', ex0).attr('x2', ex1).attr('y1', ey).attr('y2', ey);
  eb.append('line').attr('x1', exc).attr('x2', exc).attr('y1', ey0).attr('y2', ey1);
  eb.append('line').attr('x1', ex0).attr('x2', ex0).attr('y1', ey - 6).attr('y2', ey + 6);
  eb.append('line').attr('x1', ex1).attr('x2', ex1).attr('y1', ey - 6).attr('y2', ey + 6);
  eb.append('line').attr('x1', exc - 6).attr('x2', exc + 6).attr('y1', ey0).attr('y2', ey0);
  eb.append('line').attr('x1', exc - 6).attr('x2', exc + 6).attr('y1', ey1).attr('y2', ey1);

  // Axes (ticks inward on all four sides)
  g.append('g').attr('transform', `translate(0,${bottom})`)
      .call(d3.axisBottom(x).tickValues(feTicks).tickSize(-20).tickPadding(26)
        .tickFormat(i === panelData.length - 1 ? minus : ''))
      .call(cleanAxis);
  g.append('g').attr('transform', `translate(0,${bottom})`)
      .call(d3.axisBottom(x).tickValues(feMinor).tickSize(-10).tickFormat(''))
      .call(cleanAxis);
  g.append('g').attr('transform', `translate(0,${top})`)
      .call(d3.axisTop(x).tickValues(feTicks).tickSize(-20).tickFormat(''))
      .call(cleanAxis);
  g.append('g').attr('transform', `translate(0,${top})`)
      .call(d3.axisTop(x).tickValues(feMinor).tickSize(-10).tickFormat(''))
      .call(cleanAxis);
  g.append('g').attr('transform', `translate(${left},0)`)
      .call(d3.axisLeft(y).tickValues(yTicks).tickSize(-20).tickPadding(25).tickFormat(minus))
      .call(cleanAxis);
  g.append('g').attr('transform', `translate(${left},0)`)
      .call(d3.axisLeft(y).tickValues(yMinor).tickSize(-10).tickFormat(''))
      .call(cleanAxis);
  g.append('g').attr('transform', `translate(${right},0)`)
      .call(d3.axisRight(y).tickValues(yTicks).tickSize(-20).tickFormat(''))
      .call(cleanAxis);
  g.append('g').attr('transform', `translate(${right},0)`)
      .call(d3.axisRight(y).tickValues(yMinor).tickSize(-10).tickFormat(''))
      .call(cleanAxis);

  // Frame
  g.append('rect')
      .attr('x', left).attr('y', top)
      .attr('width', right - left).attr('height', panelH)
      .attr('fill', 'none').attr('stroke', '#000').attr('stroke-width', 3.5);

  // Y label
  g.append('text')
      .attr('transform', `translate(52,${top + panelH / 2}) rotate(-90)`)
      .attr('text-anchor', 'middle')
      .attr('font-family', monoFont).attr('font-weight', 'bold').attr('font-size', 32)
      .text(yLabels[i]);

  // Legend in the first panel
  if (i === 0) {
    const lg = g.append('g');
    const rows = [209, 229, 249, 269];
    lg.append('circle').attr('cx', 1175).attr('cy', rows[0]).attr('r', 7.5)
        .attr('fill', blue).attr('stroke', '#000').attr('stroke-width', 1.5);
    lg.append('circle').attr('cx', 1175).attr('cy', rows[1]).attr('r', 7.5)
        .attr('fill', cyan).attr('stroke', '#000').attr('stroke-width', 1.5);
    lg.append('path').attr('transform', `translate(1167,${rows[2]})`).attr('d', diamond(7.5))
        .attr('fill', magenta);
    lg.append('path').attr('transform', `translate(1183,${rows[2]})`).attr('d', diamond(6))
        .attr('fill', 'none').attr('stroke', magenta).attr('stroke-width', 3);
    lg.append('rect').attr('x', 1163).attr('y', rows[3] - 4).attr('width', 8).attr('height', 8)
        .attr('fill', '#000');
    lg.append('rect').attr('x', 1180).attr('y', rows[3] - 4).attr('width', 8).attr('height', 8)
        .attr('fill', '#fff').attr('stroke', '#7a7a7a').attr('stroke-width', 1.5);
    lg.selectAll('text')
        .data(legendLabels)
      .enter().append('text')
        .attr('x', 1196)
        .attr('y', (d, k) => rows[k] + 6)
        .attr('font-family', monoFont).attr('font-weight', 'bold').attr('font-size', 17)
        .attr('letter-spacing', 2.4)
        .text(d => d);
  }
});

// X label
svg.append('text')
    .attr('x', (left + right) / 2)
    .attr('y', 1540)
    .attr('text-anchor', 'middle')
    .attr('font-family', monoFont).attr('font-weight', 'bold').attr('font-size', 32)
    .text('[Fe/H]');
</script>
</body>
</html>
